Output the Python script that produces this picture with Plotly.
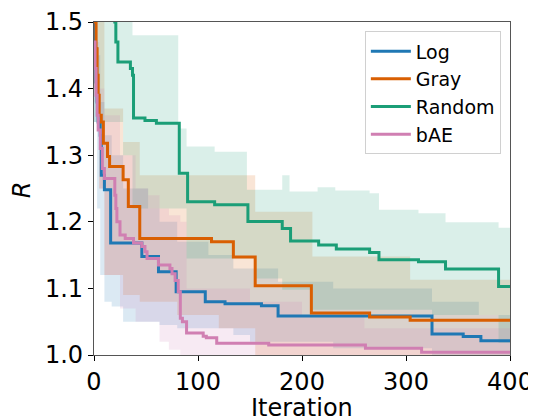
import plotly.graph_objects as go

# ---- data ----
series_names = ["Log", "Gray", "Random", "bAE"]
colors = ["#1f78b4", "#d95f02", "#1b9e77", "#d07fb2"]

log_x = [0, 1, 2, 3, 4, 6, 7, 10, 16, 46, 62, 79, 107, 126, 161, 177, 325, 355, 372, 400]
log_y = [1.53, 1.46, 1.41, 1.38, 1.35, 1.33, 1.27, 1.248, 1.168, 1.148, 1.125, 1.095, 1.08, 1.077, 1.074, 1.0586, 1.0316, 1.0276, 1.0215, 1.0215]

gray_x = [0, 1, 2, 3, 4, 5, 7, 9, 13, 15, 28, 33, 44, 113, 134, 155, 209, 265, 304, 400]
gray_y = [1.6, 1.5, 1.46, 1.42, 1.39, 1.36, 1.35, 1.318, 1.298, 1.283, 1.263, 1.223, 1.175, 1.17, 1.147, 1.104, 1.063, 1.057, 1.052, 1.052]

random_x = [0, 10, 19, 20, 21, 23, 35, 37, 38, 49, 60, 82, 90, 116, 148, 181, 189, 216, 233, 265, 274, 312, 338, 389, 400]
random_y = [1.8, 1.6, 1.52, 1.5, 1.47, 1.44, 1.43, 1.42, 1.356, 1.352, 1.348, 1.273, 1.23, 1.2256, 1.2005, 1.19, 1.171, 1.165, 1.159, 1.154, 1.143, 1.14, 1.129, 1.103, 1.103]

bae_x = [0, 1, 2, 3, 4, 6, 8, 10, 20, 21, 22, 25, 30, 38, 46, 49, 51, 62, 73, 75, 78, 81, 83, 85, 89, 105, 108, 118, 168, 261, 315, 400]
bae_y = [1.47, 1.43, 1.39, 1.36, 1.338, 1.31, 1.28, 1.265, 1.24, 1.22, 1.20, 1.18, 1.175, 1.168, 1.163, 1.155, 1.145, 1.135, 1.13, 1.122, 1.112, 1.095, 1.055, 1.05, 1.033, 1.028, 1.026, 1.0175, 1.015, 1.010, 1.004, 1.004]

# spread bands (upper / lower)
log_band_x = [0, 3, 6, 10, 17, 28, 52, 63, 80, 110, 134, 150, 177, 230, 325, 370, 400]
log_band_up = [1.5, 1.45, 1.38, 1.33, 1.30, 1.25, 1.22, 1.20, 1.17, 1.15, 1.13, 1.13, 1.11, 1.10, 1.08, 1.06, 1.06]
log_band_lo = [1.35, 1.22, 1.12, 1.08, 1.073, 1.05, 1.05, 1.045, 1.04, 1.04, 1.03, 1.02, 1.02, 1.01, 1.0, 1.0, 1.0]

gray_band_x = [0, 5, 10, 28, 44, 80, 120, 155, 210, 304, 400]
gray_band_up = [1.6, 1.5, 1.37, 1.32, 1.27, 1.27, 1.27, 1.215, 1.148, 1.113, 1.113]
gray_band_lo = [1.4, 1.25, 1.12, 1.09, 1.08, 1.06, 1.04, 1.0, 1.0, 1.0, 1.0]

random_band_x = [0, 28, 37, 81, 89, 116, 147, 155, 181, 188, 210, 215, 232, 265, 274, 312, 325, 338, 389, 400]
random_band_up = [1.6, 1.6, 1.48, 1.34, 1.313, 1.305, 1.248, 1.248, 1.27, 1.2456, 1.2456, 1.252, 1.247, 1.243, 1.218, 1.213, 1.213, 1.1995, 1.191, 1.191]
random_band_lo = [1.35, 1.30, 1.22, 1.22, 1.145, 1.145, 1.145, 1.115, 1.098, 1.098, 1.068, 1.068, 1.068, 1.068, 1.068, 1.068, 1.06, 1.06, 1.018, 1.018]

bae_band_x = [0, 5, 10, 25, 40, 52, 63, 72, 83, 89, 150, 200, 260, 400]
bae_band_up = [1.47, 1.40, 1.36, 1.30, 1.25, 1.24, 1.22, 1.21, 1.20, 1.10, 1.08, 1.06, 1.04, 1.03]
bae_band_lo = [1.38, 1.25, 1.12, 1.07, 1.05, 1.05, 1.02, 1.008, 1.0, 1.0, 1.0, 1.0, 1.0, 1.0]

x_ticks = [0, 100, 200, 300, 400]
y_ticks = [1.0, 1.1, 1.2, 1.3, 1.4, 1.5]

lines = [(log_x, log_y), (gray_x, gray_y), (random_x, random_y), (bae_x, bae_y)]
bands = [(log_band_x, log_band_up, log_band_lo), (gray_band_x, gray_band_up, gray_band_lo),
         (random_band_x, random_band_up, random_band_lo), (bae_band_x, bae_band_up, bae_band_lo)]


def rgba(h, a):
    h = h.lstrip("#")
    r, g, b = int(h[0:2], 16), int(h[2:4], 16), int(h[4:6], 16)
    return f"rgba({r},{g},{b},{a})"


fig = go.Figure()
for (bx, bu, bl), c in zip(bands, colors):
    fig.add_trace(go.Scatter(x=bx, y=bl, mode="lines", line=dict(width=0, shape="hv"),
                             showlegend=False, hoverinfo="skip"))
    fig.add_trace(go.Scatter(x=bx, y=bu, mode="lines", line=dict(width=0, shape="hv"),
                             fill="tonexty", fillcolor=rgba(c, 0.16),
                             showlegend=False, hoverinfo="skip"))

for (lx, ly), c, n in zip(lines, colors, series_names):
    fig.add_trace(go.Scatter(x=lx, y=ly, mode="lines", name=n,
                             line=dict(color=c, width=3, shape="hv")))

font_family = "DejaVu Sans"
fig.update_layout(
    width=528, height=410,
    margin=dict(l=86, r=26, t=14, b=63),
    paper_bgcolor="white", plot_bgcolor="white",
    font=dict(family=font_family, size=24, color="black"),
    legend=dict(x=0.978, y=0.972, xanchor="right", yanchor="top", traceorder="normal",
                bgcolor="rgba(255,255,255,0.85)", bordercolor="#d0d0d0", borderwidth=1,
                font=dict(size=19), tracegroupgap=0, itemwidth=40),
    showlegend=True,
    annotations=[
        dict(text="Iteration", xref="paper", yref="paper", x=0.5, y=-0.159,
             xanchor="center", yanchor="middle", showarrow=False, font=dict(size=24)),
        dict(text="<i>R</i>", xref="paper", yref="paper", x=-0.173, y=0.495,
             xanchor="center", yanchor="middle", showarrow=False, textangle=-90,
             font=dict(size=24)),
    ],
)
fig.update_xaxes(range=[0, 400], tickvals=x_ticks, ticks="outside", ticklen=5,
                 tickcolor="black", showgrid=False, zeroline=False, automargin=False,
                 showline=True, linecolor="#555555", linewidth=1.2, mirror=True)
fig.update_yaxes(range=[1.0, 1.5], tickvals=y_ticks, tickformat=".1f", ticks="outside", ticklen=5,
                 tickcolor="black", showgrid=False, zeroline=False, automargin=False,
                 showline=True, linecolor="#555555", linewidth=1.2, mirror=True)

fig.write_html("out.html")
